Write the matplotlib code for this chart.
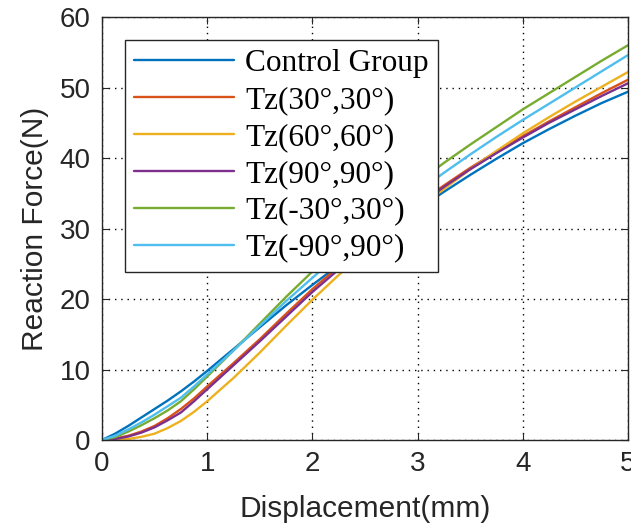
import matplotlib
matplotlib.use("Agg")
import matplotlib.pyplot as plt

# Displacement samples (mm)
displacement = [0, 0.125, 0.25, 0.375, 0.5, 0.625, 0.75, 0.875, 1, 1.25, 1.5,
                1.75, 2, 2.25, 2.5, 2.75, 3, 3.25, 3.5, 3.75, 4, 4.25, 4.5,
                4.75, 5]

# Reaction force (N) for each configuration
control_group = [0, 0.9, 2.0, 3.2, 4.4, 5.6, 6.9, 8.3, 9.8, 12.9, 16.0,
                 19.1, 22.0, 24.8, 27.5, 30.1, 32.7, 35.2, 37.6, 39.9, 42.1,
                 44.1, 46.0, 47.8, 49.4]
tz_30_30 = [0, 0.2, 0.6, 1.2, 2.0, 3.1, 4.4, 5.9, 7.6, 10.9, 14.3,
            17.9, 21.4, 24.6, 27.7, 30.7, 33.5, 36.1, 38.6, 40.9, 43.1,
            45.2, 47.2, 49.2, 51.1]
tz_60_60 = [0, 0.05, 0.15, 0.45, 0.9, 1.7, 2.7, 4.0, 5.5, 8.8, 12.4,
            16.2, 19.9, 23.4, 26.7, 29.8, 32.8, 35.6, 38.4, 41.0, 43.5,
            45.8, 48.0, 50.1, 52.2]
tz_90_90 = [0, 0.15, 0.5, 1.05, 1.8, 2.8, 3.9, 5.5, 7.2, 10.6, 14.0,
            17.5, 21.0, 24.2, 27.3, 30.3, 33.2, 35.9, 38.4, 40.7, 42.9,
            45.0, 46.9, 48.8, 50.6]
tz_m30_30 = [0, 0.4, 1.2, 2.1, 3.1, 4.2, 5.5, 7.2, 9.0, 12.7, 16.5,
             20.3, 23.9, 27.3, 30.5, 33.6, 36.5, 39.3, 41.9, 44.4, 46.9,
             49.2, 51.5, 53.8, 56.0]
tz_m90_90 = [0, 0.6, 1.5, 2.5, 3.6, 4.8, 6.0, 7.6, 9.3, 12.7, 16.2,
             19.7, 23.0, 26.3, 29.4, 32.4, 35.2, 37.9, 40.5, 43.0, 45.4,
             47.7, 50.0, 52.3, 54.6]

series_labels = ["Control Group", "Tz(30°,30°)", "Tz(60°,60°)",
                 "Tz(90°,90°)", "Tz(-30°,30°)", "Tz(-90°,90°)"]
series_colors = ["#0072BD", "#D95319", "#EDB120", "#7E2F8E", "#77AC30", "#4DBEEE"]
series_values = [control_group, tz_30_30, tz_60_60, tz_90_90, tz_m30_30, tz_m90_90]

x_ticks = [0, 1, 2, 3, 4, 5]
y_ticks = [0, 10, 20, 30, 40, 50, 60]

axis_color = "#262626"
plt.rcParams["font.family"] = ["Liberation Sans", "DejaVu Sans"]

fig = plt.figure(figsize=(6.31, 5.32), dpi=100)
ax = fig.add_axes([0.1616, 0.1729, 0.8336, 0.7951])

for values, label, color in zip(series_values, series_labels, series_colors):
    ax.plot(displacement, values, color=color, linewidth=1.7, label=label,
            solid_capstyle="round", solid_joinstyle="round")

ax.set_xlim(0, 5)
ax.set_ylim(0, 60)
ax.set_xticks(x_ticks)
ax.set_yticks(y_ticks)
ax.set_xticklabels([str(t) for t in x_ticks])
ax.set_yticklabels([str(t) for t in y_ticks])

ax.grid(True, color="black", linestyle=(0, (1, 3.5)), linewidth=1.0)
ax.set_axisbelow(True)

for spine in ax.spines.values():
    spine.set_color(axis_color)
    spine.set_linewidth(1.0)

ax.tick_params(direction="in", length=5, width=0.8, colors=axis_color,
               labelsize=20, top=True, right=True, pad=8)

ax.set_xlabel("Displacement(mm)", fontsize=21.5, color=axis_color, labelpad=13)
ax.set_ylabel("Reaction Force(N)", fontsize=21.5, color=axis_color, labelpad=8)

leg = ax.legend(loc="upper left", bbox_to_anchor=(0.0436, 0.9456),
                borderaxespad=0, frameon=True, fancybox=False,
                prop={"family": ["Liberation Serif", "DejaVu Serif"], "size": 22.5},
                handlelength=3.2, handletextpad=0.35, labelspacing=0.25,
                borderpad=0.3)
leg.get_frame().set_edgecolor(axis_color)
leg.get_frame().set_linewidth(1.0)
leg.get_frame().set_alpha(1.0)

fig.savefig("out.png", dpi=100, facecolor="white")
